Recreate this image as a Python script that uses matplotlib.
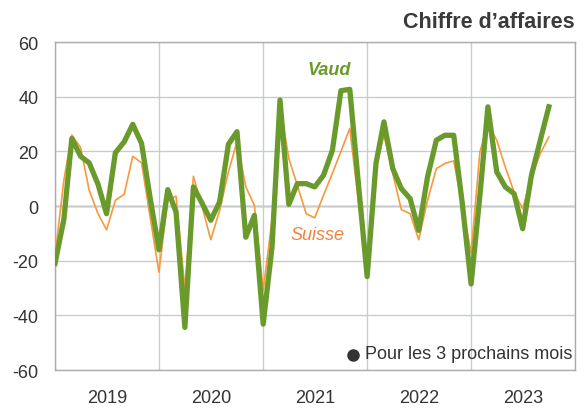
import matplotlib
matplotlib.use('Agg')
import matplotlib.pyplot as plt
import pandas as pd

plt.rcParams['font.family'] = ['Liberation Sans', 'DejaVu Sans']

# Données mensuelles (janv. 2019 - oct. 2023)
mois = pd.date_range('2019-01-01', periods=58, freq='MS')

vaud = [-21, -5, 24.7, 18.2, 15.8, 8, -2.8, 19.5, 23.5, 29.9, 22.9, 3,
        -16, 6, -2.2, -44.4, 7, 0.9, -5.2, 1.5, 22.6, 27.2, -11.4, -3.4,
        -43.2, -15, 38.8, 0.6, 8.2, 8.2, 7, 11.3, 20.4, 42.2, 42.7, 8.5,
        -25.8, 15.6, 30.8, 13.7, 6.4, 2.7, -8.9, 10.6, 24.1, 25.9, 25.9, 1,
        -28.5, 4, 36.3, 12.5, 7, 4.5, -8.3, 11.3, 24.1, 36.3]

suisse = [-18.5, 9.4, 26, 21.4, 5.8, -2.8, -8.7, 2.1, 4.3, 18.2, 15.8, -4,
          -24.2, 2.3, 3.6, -30.3, 10.9, -0.4, -12.3, -1.6, 12.5, 23.5, 7, 0.3,
          -30.9, -5, 37, 17.4, 7.5, -2.8, -4.3, 4, 12, 20, 28.4, 2,
          -24.5, 14.3, 25.9, 11.9, -1.3, -2.8, -12.3, 2.1, 13.7, 15.6, 16.5, 0,
          -17.2, 19.8, 30.2, 24.1, 14.3, 5.1, -1, 10.6, 19.2, 25.3]

annees = [2019, 2020, 2021, 2022, 2023]
yticks = [-60, -40, -20, 0, 20, 40, 60]

vert = '#6a9a2b'
orange = '#f7993c'
gris_txt = '#333333'

fig = plt.figure(figsize=(5.85, 4.1), dpi=100)
ax = fig.add_axes([0.094, 0.095, 0.889, 0.80])

ax.plot(mois, suisse, color=orange, linewidth=1.2, zorder=3)
ax.plot(mois, vaud, color=vert, linewidth=3.8, zorder=4)

ax.set_xlim(pd.Timestamp('2019-01-01'), pd.Timestamp('2024-01-01'))
ax.set_ylim(-60, 60)

# grille
ax.set_yticks(yticks)
ax.set_yticklabels([str(v) for v in yticks])
ax.set_xticks([pd.Timestamp(f'{a}-01-01') for a in annees + [2024]])
ax.set_xticklabels([])
ax.set_xticks([pd.Timestamp(f'{a}-07-02') for a in annees], minor=True)
ax.set_xticklabels([str(a) for a in annees], minor=True)
ax.tick_params(axis='x', which='both', length=0, pad=14, labelsize=13, colors=gris_txt)
ax.tick_params(axis='y', length=0, pad=12, labelsize=13, colors=gris_txt)
ax.grid(True, color='#c9cccc', linewidth=1.0, zorder=0)
ax.axhline(0, color='#7f7f7f', linewidth=1.0, zorder=1)
for s in ax.spines.values():
    s.set_color('#a9adad')
    s.set_linewidth(1.0)

# étiquettes des séries
ax.text(pd.Timestamp('2021-08-20'), 50, 'Vaud', color=vert, fontsize=13,
        fontweight='bold', fontstyle='italic', ha='center', va='center')
ax.text(pd.Timestamp('2021-07-10'), -10.5, 'Suisse', color='#f2813f', fontsize=13,
        fontstyle='italic', ha='center', va='center')

# légende
ax.text(0.995, 0.05, 'Pour les 3 prochains mois', transform=ax.transAxes,
        ha='right', va='center', fontsize=13, color=gris_txt)
ax.plot([0.573], [0.046], marker='o', markersize=8, color='#333333',
        transform=ax.transAxes, clip_on=False)

fig.text(0.983, 0.945, 'Chiffre d\u2019affaires', ha='right', va='center',
         fontsize=15.5, fontweight='bold', color='#3a3a3a')

fig.savefig('out.png', dpi=100)
